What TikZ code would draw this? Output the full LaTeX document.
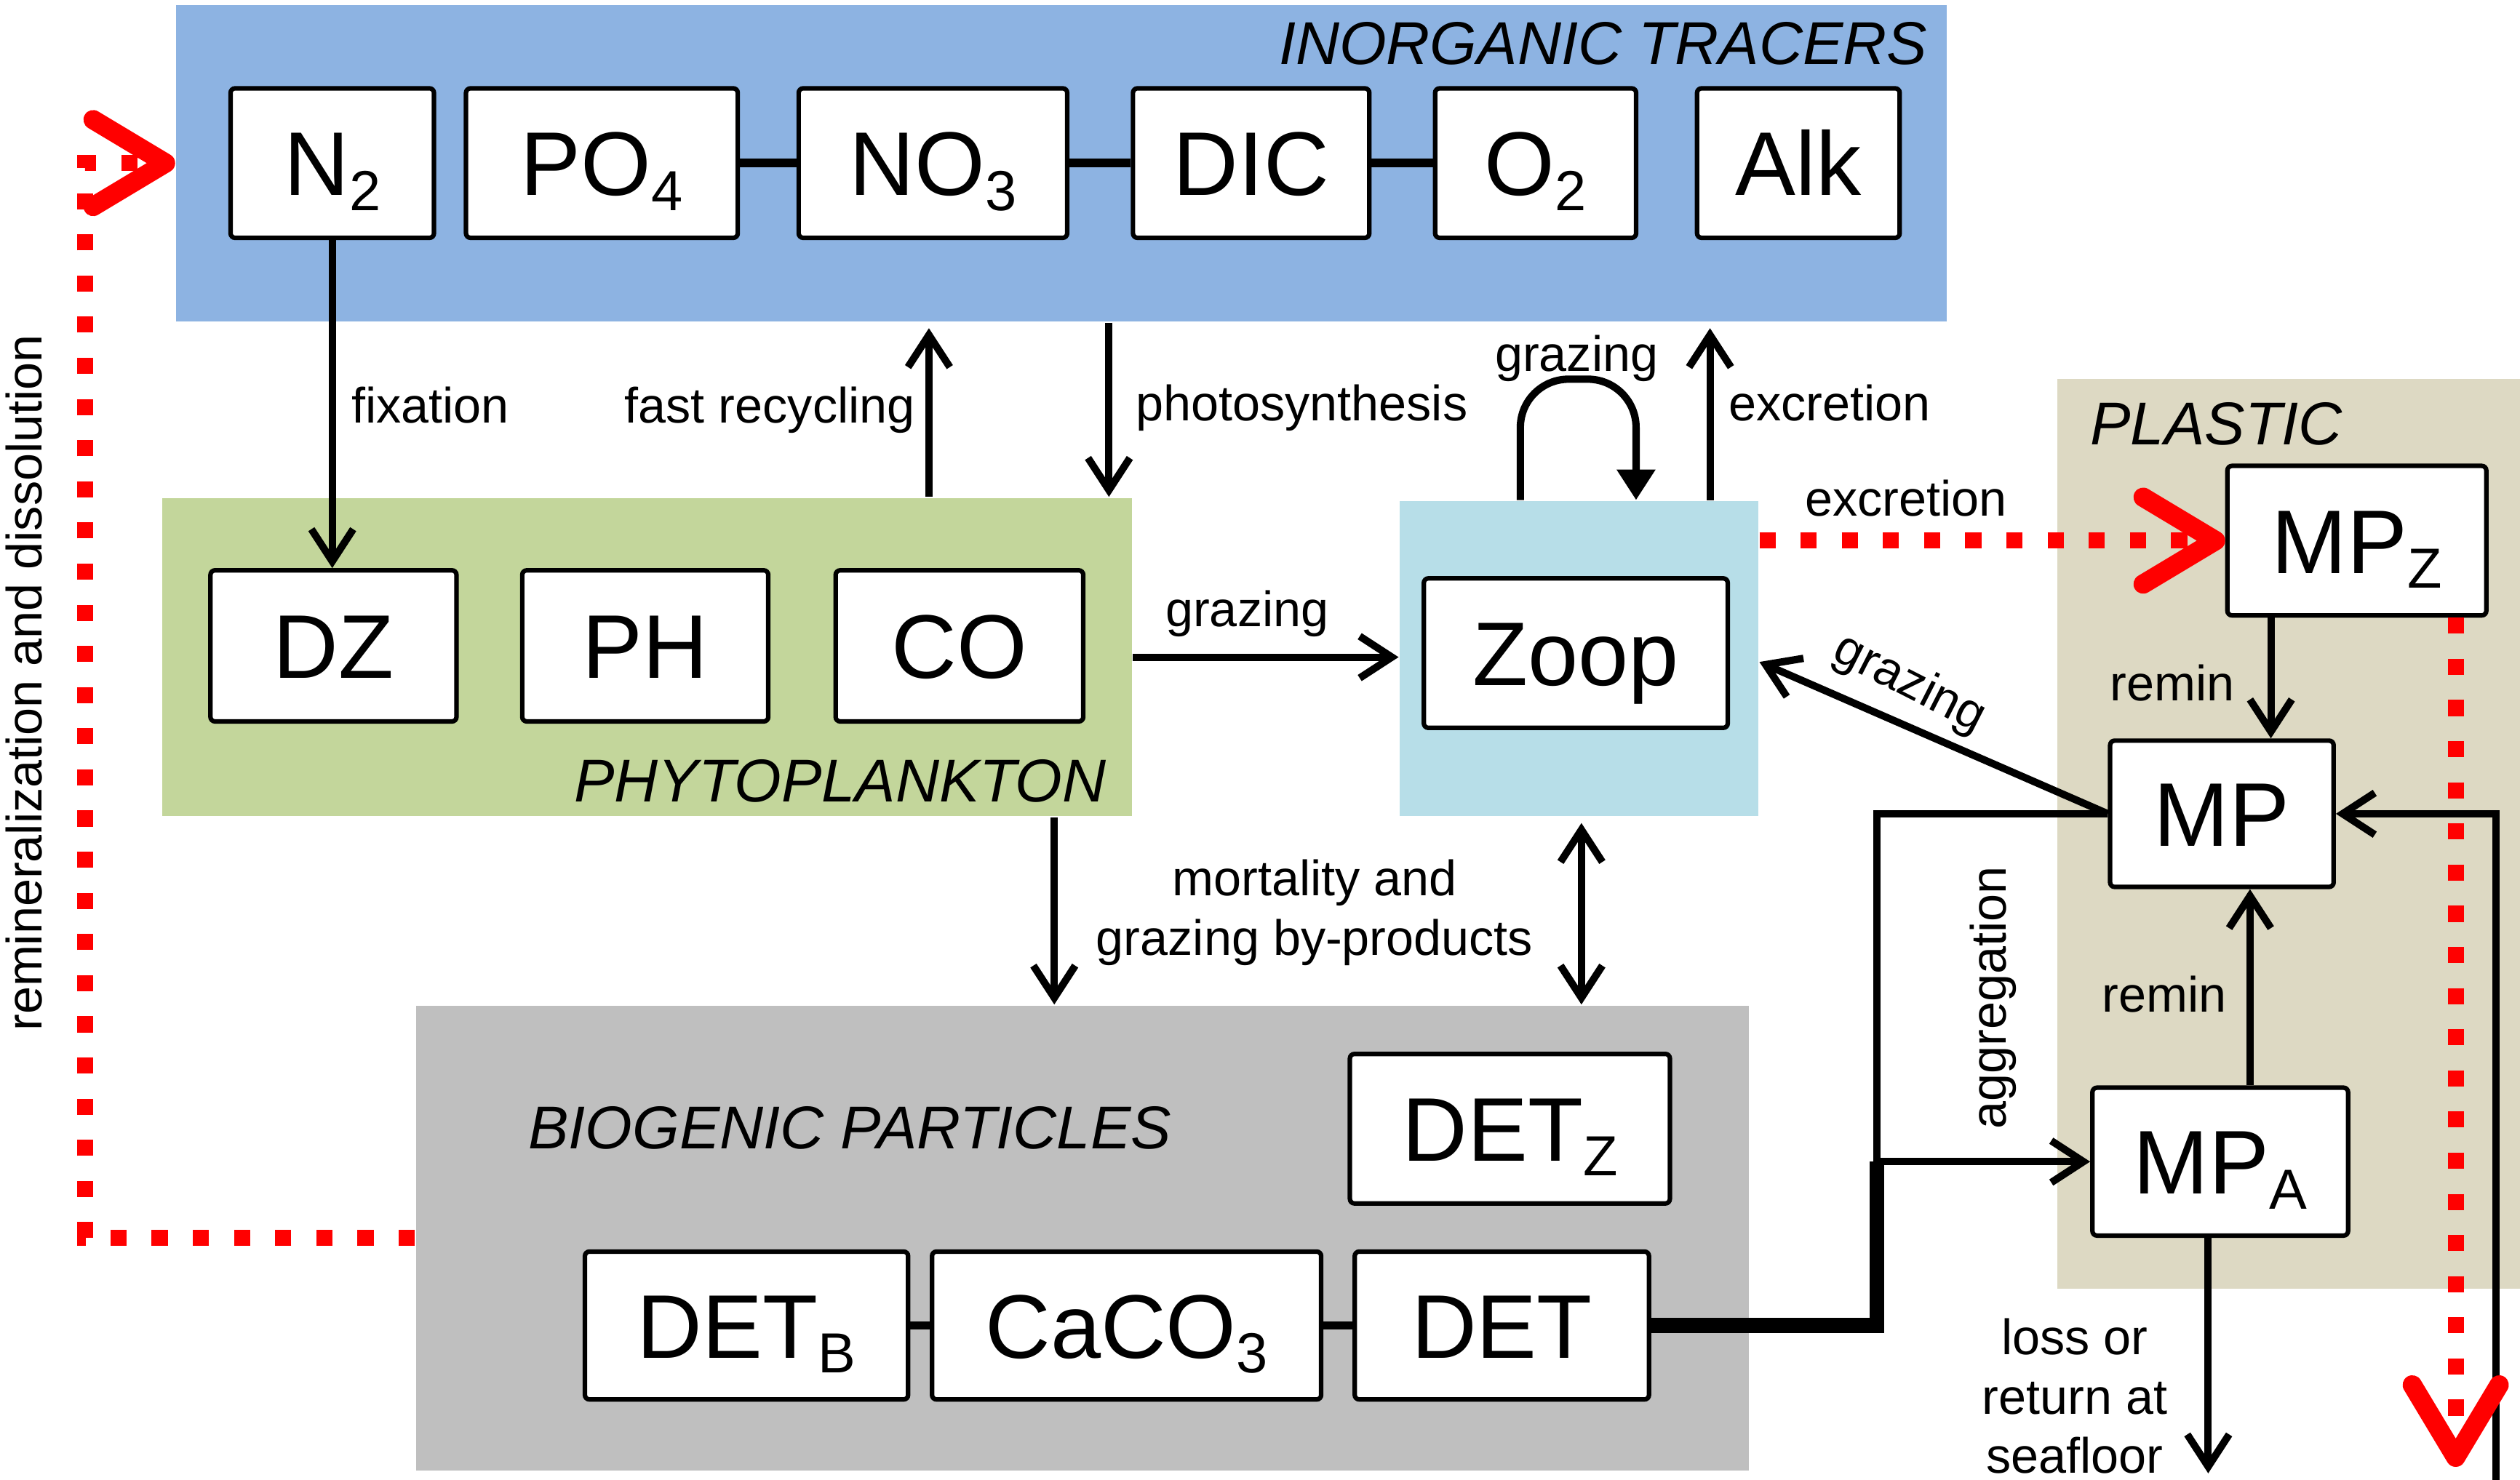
\documentclass[tikz,border=0pt]{standalone}
\usepackage{fontspec}
\setmainfont{Liberation Sans}
\usetikzlibrary{arrows.meta}
\definecolor{cTrac}{HTML}{8DB3E2}
\definecolor{cPhyto}{HTML}{C3D69B}
\definecolor{cZoo}{HTML}{B7DEE8}
\definecolor{cBio}{HTML}{BFBFBF}
\definecolor{cPlas}{HTML}{DDD9C3}
\newcommand\lsub[1]{\raisebox{-2.6pt}{\fontsize{10}{12}\selectfont #1}}
\tikzset{
  bg/.style={draw=none, inner sep=0pt, rectangle},
  box/.style={draw=black, fill=white, line width=0.8pt, rounded corners=0.8pt, inner sep=0pt,
    font=\fontsize{16}{19}\selectfont, text height=11.5pt, text depth=0pt},
  lab/.style={font=\fontsize{8.8}{10.5}\selectfont, inner sep=0pt},
  ttl/.style={font=\fontsize{10.7}{12}\selectfont\itshape, inner sep=0pt},
  arr/.style={line width=1.3pt, -{Straight Barb[length=0.2cm,width=0.26cm]}},
  link/.style={line width=1.5pt},
  reddot/.style={red, line width=0.1cm, dash pattern=on 0.1cm off 0.156cm,
    -{Straight Barb[length=0.45cm,width=0.54cm,line width=0.12cm,round]}},
}
\begin{document}
\begin{tikzpicture}[x=0.01cm,y=-0.01cm]
\useasboundingbox (0,0) rectangle (1568,921);
\fill[white] (0,0) rectangle (1568,921);
% background groups
\node[bg, fill=cTrac, minimum width=11.01cm, minimum height=1.97cm] (tracers) at (660.5,101.5) {};
\node[bg, fill=cPhyto, minimum width=6.03cm, minimum height=1.98cm] (phyto) at (402.5,409) {};
\node[bg, fill=cZoo, minimum width=2.23cm, minimum height=1.96cm] (zoopbg) at (982.5,410) {};
\node[bg, fill=cBio, minimum width=8.29cm, minimum height=2.89cm] (bio) at (673.5,770.5) {};
\node[bg, fill=cPlas, minimum width=2.88cm, minimum height=5.66cm] (plastic) at (1424,519) {};
% titles
\node[ttl, anchor=base east] (tTrac) at (1200,40) {INORGANIC TRACERS};
\node[ttl, anchor=base east] (tPhyto) at (689,499) {PHYTOPLANKTON};
\node[ttl, anchor=base west] (tBio) at (328,715) {BIOGENIC PARTICLES};
\node[ttl, anchor=base west] (tPlas) at (1300,277) {PLASTIC};
% boxes
\node[box, minimum width=1.265cm, minimum height=0.93cm] (N2) at (206.75,101.5) {N\lsub{2}};
\node[box, minimum width=1.69cm, minimum height=0.93cm] (PO4) at (374.5,101.5) {PO\lsub{4}};
\node[box, minimum width=1.67cm, minimum height=0.93cm] (NO3) at (580.5,101.5) {NO\lsub{3}};
\node[box, minimum width=1.47cm, minimum height=0.93cm] (DIC) at (778.5,101.5) {DIC};
\node[box, minimum width=1.25cm, minimum height=0.93cm] (O2) at (955.5,101.5) {O\lsub{2}};
\node[box, minimum width=1.26cm, minimum height=0.93cm] (Alk) at (1119,101.5) {Alk};
\node[box, minimum width=1.53cm, minimum height=0.94cm] (DZ) at (207.5,402) {DZ};
\node[box, minimum width=1.53cm, minimum height=0.94cm] (PH) at (401.5,402) {PH};
\node[box, minimum width=1.54cm, minimum height=0.94cm] (CO) at (597,402) {CO};
\node[box, minimum width=1.89cm, minimum height=0.93cm] (Zoop) at (980.5,406.5) {Zoop};
\node[box, minimum width=1.99cm, minimum height=0.93cm] (DETZ) at (939.5,702.5) {DET\lsub{Z}};
\node[box, minimum width=2.01cm, minimum height=0.92cm] (DETB) at (464.5,825) {DET\lsub{B}};
\node[box, minimum width=2.42cm, minimum height=0.92cm] (CaCO3) at (701,825) {CaCO\lsub{3}};
\node[box, minimum width=1.83cm, minimum height=0.92cm] (DET) at (934.5,825) {DET};
\node[box, minimum width=1.61cm, minimum height=0.93cm] (MPZ) at (1466.5,336.5) {MP\lsub{Z}};
\node[box, minimum width=1.39cm, minimum height=0.91cm] (MP) at (1382.5,506.5) {MP};
\node[box, minimum width=1.59cm, minimum height=0.92cm] (MPA) at (1381.5,723) {MP\lsub{A}};
% links between boxes
\draw[link] (PO4.east) -- (NO3.west);
\draw[link] (NO3.east) -- (DIC.west);
\draw[link] (DIC.east) -- (O2.west);
\draw[link] (DETB.east) -- (CaCO3.west);
\draw[link] (CaCO3.east) -- (DET.west);
% helper coordinates
\coordinate (xfr) at (578,0);
\coordinate (xps) at (690,0);
\coordinate (xgl) at (946,0);
\coordinate (xgr) at (1018,0);
\coordinate (ytop) at (0,236);
\coordinate (xex) at (1064,0);
\coordinate (xpb) at (656,0);
\coordinate (xdb) at (984,0);
\coordinate (xmz) at (1413,0);
\coordinate (xma) at (1400,0);
\coordinate (yg2) at (0,412);
\coordinate (xag) at (1168,0);
\coordinate (xdn) at (1374,0);
\coordinate (ybot) at (0,917);
\coordinate (rb) at (1553,921);
\coordinate (xrd) at (1528,0);
\coordinate (yrb) at (0,913);
\coordinate (xrl) at (53,0);
% black connectors
\draw[arr] (N2.south) -- (N2.south |- DZ.north);
\draw[arr, shorten >=1pt] (phyto.north -| xfr) -- (tracers.south -| xfr);
\draw[arr] (tracers.south -| xps) -- (phyto.north -| xps);
\draw[line width=1.3pt, rounded corners=0.3cm, -{Triangle[length=0.19cm,width=0.23cm]}]
  (zoopbg.north -| xgl) -- (xgl |- ytop) -- (xgr |- ytop) -- (zoopbg.north -| xgr);
\draw[arr, shorten >=1pt] (zoopbg.north -| xex) -- (tracers.south -| xex);
\draw[arr] (phyto.east) -- (phyto.east -| zoopbg.west);
\draw[arr] (phyto.south -| xpb) -- (bio.north -| xpb);
\draw[line width=1.3pt, {Straight Barb[length=0.2cm,width=0.26cm]}-{Straight Barb[length=0.2cm,width=0.26cm]}, shorten <=1pt]
  (zoopbg.south -| xdb) -- (bio.north -| xdb);
\draw[arr] (MPZ.south -| xmz) -- (MP.north -| xmz);
\draw[arr] (MPA.north -| xma) -- (MP.south -| xma);
\draw[arr] (MP.west) -- (zoopbg.east |- yg2);
\draw[line width=2.6pt] (DET.east) -| (xag |- MPA.west);
\draw[line width=1.3pt] (MP.west) -| (xag |- MPA.west);
\draw[arr] (xag |- MPA.west) -- (MPA.west);
\draw[arr] (MPA.south -| xdn) -- (xdn |- ybot);
\draw[arr] (rb) |- (MP.east);
% red dotted connectors
\draw[reddot] (zoopbg.east |- MPZ.west) -- (MPZ.west);
\draw[reddot] (MPZ.south -| xrd) -- (xrd |- yrb);
\draw[reddot] (bio.west) -| (xrl |- N2.west) -- (tracers.west |- N2.west);
% labels
\node[lab, anchor=base west] (lfix) at (218,263) {fixation};
\node[lab, anchor=base east] (lfast) at (570,263) {fast recycling};
\node[lab, anchor=base west] (lphot) at (706,262) {photosynthesis};
\node[lab, anchor=base] (lgl) at (981,231) {grazing};
\node[lab, anchor=base west] (lex) at (1075,262) {excretion};
\node[lab, anchor=base] (lgz) at (776,390) {grazing};
\node[lab, align=center] (lmort) at (818,568) {mortality and\\grazing by-products};
\node[lab, anchor=base] (lexr) at (1186,321) {excretion};
\node[lab, anchor=base east] (lr1) at (1391,436) {remin};
\node[lab, anchor=base east] (lr2) at (1386,630) {remin};
\node[lab, rotate=90] (lagg) at (1240,621) {aggregation};
\node[lab, rotate=-27] (lgz2) at (1188,426) {grazing};
\node[lab, align=center] (lloss) at (1291,869) {loss or\\return at\\seafloor};
\node[lab, rotate=90] (lrem) at (15,425) {remineralization and dissolution};
\end{tikzpicture}
\end{document}
